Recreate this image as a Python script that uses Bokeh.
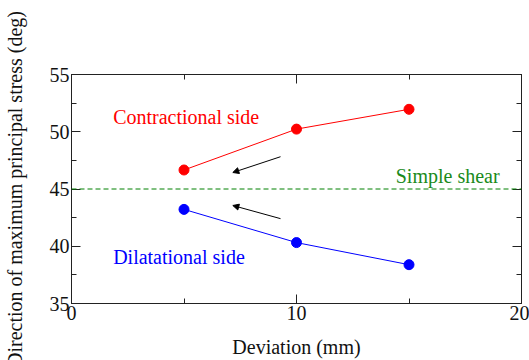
import math
from bokeh.plotting import figure
from bokeh.models import (Range1d, LinearAxis, SingleIntervalTicker, Label,
                          Arrow, NormalHead, Span, CustomJSTickFormatter)
from bokeh.embed import file_html
from bokeh.resources import INLINE

# ---- data ----
deviation = [5, 10, 15]
contractional = [46.66, 50.23, 51.96]
dilatational = [43.22, 40.32, 38.39]
simple_shear = 45.0

arrow_x_start = [9.29, 9.29]
arrow_y_start = [47.82, 42.41]
arrow_x_end = [7.17, 7.17]
arrow_y_end = [46.44, 43.56]

FONT = "Liberation Serif"
FS = "20px"

p = figure(width=529, height=360, x_range=Range1d(0, 20), y_range=Range1d(35, 55),
           output_backend="svg", toolbar_location=None,
           x_axis_type=None, y_axis_type=None,
           min_border_left=70, min_border_top=74, min_border_right=8,
           min_border_bottom=54)
p.grid.visible = False
p.outline_line_color = "#444444"
p.background_fill_color = "white"
p.border_fill_color = "white"


def make_axis(interval, show_labels, label=None, label_standoff=13):
    ax = LinearAxis(ticker=SingleIntervalTicker(interval=interval, num_minor_ticks=2))
    ax.major_tick_in = 9
    ax.major_tick_out = 0
    ax.minor_tick_in = 5
    ax.minor_tick_out = 0
    ax.axis_line_color = "#222222"
    ax.major_tick_line_color = "#222222"
    ax.minor_tick_line_color = "#222222"
    ax.major_label_text_font = FONT
    ax.major_label_text_color = "#111111"
    ax.major_label_text_font_size = FS
    if show_labels:
        ax.major_label_standoff = 2
    else:
        ax.formatter = CustomJSTickFormatter(code="return '';")
        ax.major_label_standoff = 0
    if label:
        ax.axis_label = label
        ax.axis_label_text_font = FONT
        ax.axis_label_text_font_size = FS
        ax.axis_label_text_font_style = "normal"
        ax.axis_label_text_color = "#111111"
        ax.axis_label_standoff = label_standoff
    return ax


p.add_layout(make_axis(10, True, "Deviation (mm)", 13), "below")
p.add_layout(make_axis(5, True, "Direction of maximum principal stress (deg)", 21), "left")
p.add_layout(make_axis(10, False), "above")
p.add_layout(make_axis(5, False), "right")

# simple shear line
p.add_layout(Span(location=simple_shear, dimension="width", line_color="#008000",
                  line_dash="5 3", line_width=1))

# series
p.line(deviation, contractional, line_color="#ff0000", line_width=1)
p.scatter(deviation, contractional, size=10, fill_color="#ff0000", line_color="#ff0000")
p.line(deviation, dilatational, line_color="#0000ff", line_width=1)
p.scatter(deviation, dilatational, size=10, fill_color="#0000ff", line_color="#0000ff")

# arrows
for xs, ys, xe, ye in zip(arrow_x_start, arrow_y_start, arrow_x_end, arrow_y_end):
    p.add_layout(Arrow(x_start=xs, y_start=ys, x_end=xe, y_end=ye,
                       line_color="black", line_width=1,
                       end=NormalHead(size=6, fill_color="black", line_color="black")))

# texts
p.add_layout(Label(x=1.85, y=51.32, text="Contractional side", text_color="#ff0000",
                   text_font=FONT, text_font_size=FS, text_baseline="middle"))
p.add_layout(Label(x=14.41, y=46.15, text="Simple shear", text_color="#1a8a1a",
                   text_font=FONT, text_font_size=FS, text_baseline="middle"))
p.add_layout(Label(x=1.85, y=39.03, text="Dilatational side", text_color="#0000ff",
                   text_font=FONT, text_font_size=FS, text_baseline="middle"))

open("out.html", "w").write(file_html(p, INLINE))
